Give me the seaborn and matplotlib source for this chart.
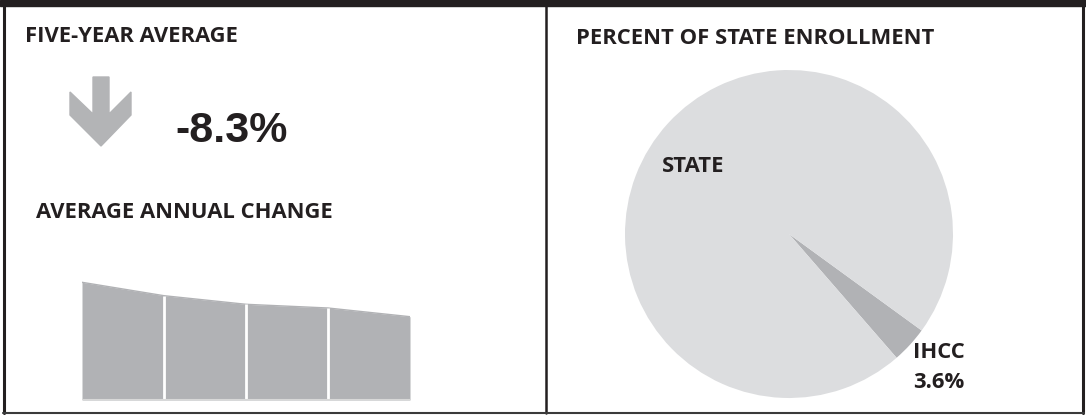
import matplotlib
matplotlib.use('Agg')
import matplotlib.pyplot as plt
import seaborn as sns
import pandas as pd
from matplotlib.patches import Polygon, Rectangle
from matplotlib.lines import Line2D

# data
years = [0, 1, 2, 3, 4]
enrollment = [117.7, 104.3, 95.7, 92.0, 83.3]
avg_change = '-8.3%'
pie_labels = ['IHCC', 'STATE']
pie_share = [3.6, 96.4]

W, H = 1086, 416
dark = '#231f20'
grey = '#b1b2b5'
light = '#dcdddf'

sns.set_style('white')
plt.rcParams['font.family'] = ['Open Sans', 'DejaVu Sans']

fig = plt.figure(figsize=(W / 100, H / 100), dpi=100)


def fx(x):
    return x / W


def fy(y):
    return 1 - y / H


# frame
fig.add_artist(Rectangle((0, fy(6)), 1, 6 / H, color=dark, transform=fig.transFigure))
fig.add_artist(Line2D([fx(4), fx(4)], [fy(413), fy(5)], color=dark, lw=2.2))
fig.add_artist(Line2D([fx(1083), fx(1083)], [fy(413), fy(5)], color=dark, lw=2.2))
fig.add_artist(Line2D([fx(546), fx(546)], [fy(413), fy(5)], color=dark, lw=1.8))
fig.add_artist(Line2D([fx(3), fx(1084)], [fy(413), fy(413)], color='#3a3a3a', lw=1.5))

# left panel
title_kw = dict(fontsize=15.8, fontweight='bold', color=dark, va='center', ha='left')
fig.text(fx(25), fy(36), 'FIVE-YEAR AVERAGE', **title_kw)
arrow = [(93, 77), (109, 77), (109, 114), (131, 92), (131, 115), (101, 146),
         (70, 115), (70, 92), (93, 114)]
fig.add_artist(Polygon([(fx(x), fy(y)) for x, y in arrow], closed=True,
                       color='#b3b4b6', transform=fig.transFigure))
fig.text(fx(175), fy(131), avg_change, fontsize=31, fontweight='bold',
         family=['Liberation Sans'], color=dark, va='center', ha='left')
fig.text(fx(36), fy(212), 'AVERAGE ANNUAL CHANGE', **title_kw)

ax = fig.add_axes([fx(82), fy(400), (410 - 82) / W, 120 / H])
df = pd.DataFrame({'year': years, 'enrollment': enrollment})
ax.fill_between(df.year, 0, df.enrollment, color=grey, lw=0)
sns.lineplot(data=df, x='year', y='enrollment', color=grey, lw=1, ax=ax)
ax.vlines(df.year[1:-1], 0, df.enrollment[1:-1], color='white', lw=2)
ax.axhline(0, color='#d8d8d8', lw=1.5)
ax.set_xlim(0, 4)
ax.set_ylim(0, 120)
ax.axis('off')

# right panel
fig.text(fx(576), fy(38), 'PERCENT OF STATE ENROLLMENT', **title_kw)
r = 164
cx, cy = 789, 234
pax = fig.add_axes([fx(cx - r), fy(cy + r), 2 * r / W, 2 * r / H])
pax.pie(pie_share, colors=[grey, light], startangle=-49, counterclock=True,
        wedgeprops={'linewidth': 0})
pax.set_xlim(-1, 1)
pax.set_ylim(-1, 1)
pax.axis('off')

fig.text(fx(662), fy(166), pie_labels[1], **title_kw)
fig.text(fx(913), fy(352), pie_labels[0], **title_kw)
fig.text(fx(913), fy(382), f'{pie_share[0]}%', **title_kw)

fig.savefig('out.png', dpi=100)
